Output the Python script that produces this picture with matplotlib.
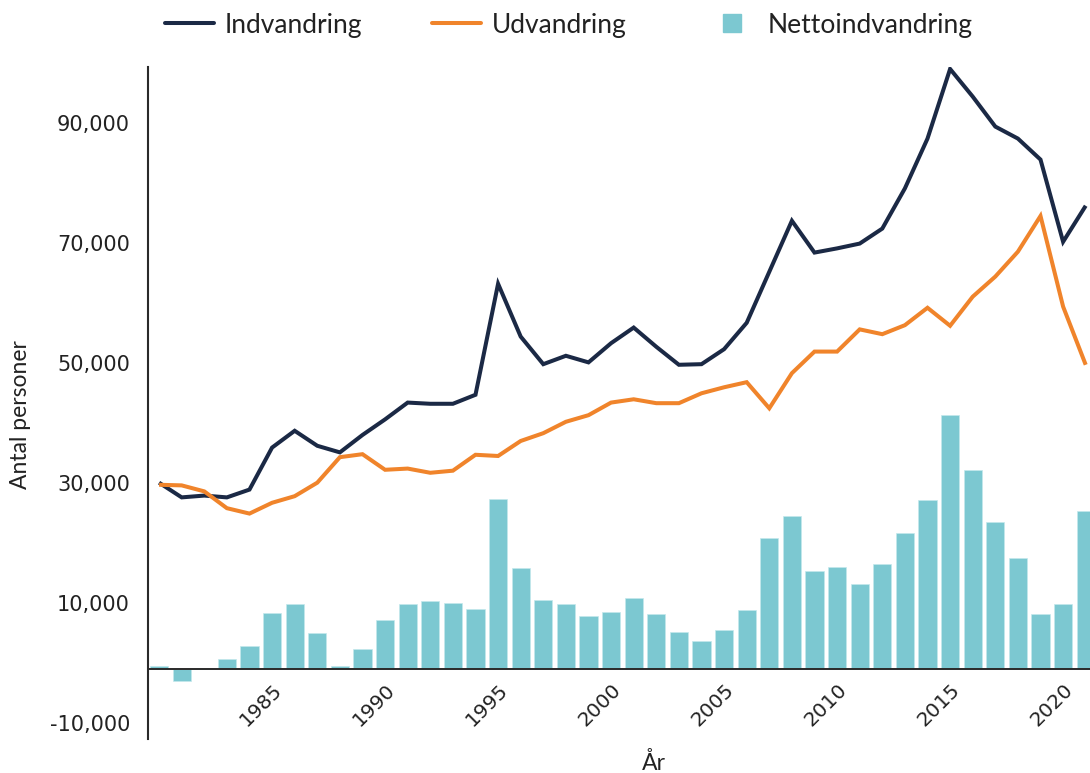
import matplotlib
matplotlib.use("Agg")
import matplotlib.pyplot as plt
from matplotlib.lines import Line2D
from matplotlib.ticker import FuncFormatter

# ---------------- data ----------------
years = list(range(1980, 2022))
indvandring = [30050, 27600, 27900, 27600, 28900, 35900, 38700, 36200, 35100, 38000,
               40600, 43400, 43200, 43200, 44700, 63200, 54400, 49800, 51200, 50100,
               53300, 55900, 52700, 49700, 49800, 52300, 56700, 65200, 73700, 68400,
               69100, 69900, 72400, 79100, 87400, 99000, 94400, 89400, 87400, 83900,
               70200, 76200]
udvandring = [29700, 29600, 28600, 25800, 24900, 26700, 27800, 30050, 34300, 34800,
              32200, 32400, 31700, 32050, 34700, 34500, 37000, 38300, 40200, 41300,
              43400, 43950, 43300, 43300, 44950, 45950, 46800, 42450, 48300, 51900,
              51900, 55600, 54800, 56300, 59200, 56200, 61050, 64400, 68550, 74500,
              59400, 49700]
nettoindvandring = [450, -2000, 0, 1600, 3900, 9400, 10800, 6050, 550, 3300,
                    8200, 10800, 11300, 10950, 10000, 28300, 16900, 11550, 10800, 8800,
                    9450, 11900, 9100, 6200, 4700, 6500, 9900, 21900, 25450, 16300,
                    16950, 14200, 17500, 22700, 28200, 42300, 33100, 24500, 18450, 9100,
                    10800, 26300]
x_ticks = [1985, 1990, 1995, 2000, 2005, 2010, 2015, 2020]
y_ticks = [-10000, 10000, 30000, 50000, 70000, 90000]

series_labels = ["Indvandring", "Udvandring", "Nettoindvandring"]
y_label = "Antal personer"
x_label = "År"

# ---------------- style ----------------
NAVY = "#1b2945"
ORANGE = "#f0842b"
TEAL = "#7cc8d1"
AXIS = "#2a2a2a"

W, H = 1090, 773
fig = plt.figure(figsize=(W / 100, H / 100), dpi=100)

left, right, top, bottom = 148, 1090, 67, 739
ax_bar = fig.add_axes([left / W, 1 - bottom / H, (right - left) / W, (bottom - top) / H])
ax_line = ax_bar.twinx()

# bars
ax_bar.bar(years, nettoindvandring, width=0.81, color=TEAL,
           edgecolor="#c4e8ec", linewidth=0.5, zorder=2)
ax_bar.set_ylim(-11670, 100330)
ax_bar.set_xlim(1979.51, 2021.19)

# lines
ax_line.plot(years, indvandring, color=NAVY, lw=2.9, solid_joinstyle="miter",
             solid_capstyle="butt", zorder=3)
ax_line.plot(years, udvandring, color=ORANGE, lw=2.9, solid_joinstyle="miter",
             solid_capstyle="butt", zorder=3)
ax_line.set_ylim(-12670, 99330)

# spines
for s in ["top", "right", "left", "bottom"]:
    ax_line.spines[s].set_visible(False)
for s in ["top", "right"]:
    ax_bar.spines[s].set_visible(False)
ax_bar.spines["left"].set_color(AXIS)
ax_bar.spines["left"].set_linewidth(1.5)
ax_bar.spines["bottom"].set_position(("data", 0))
ax_bar.spines["bottom"].set_color(AXIS)
ax_bar.spines["bottom"].set_linewidth(1.4)
ax_bar.spines["bottom"].set_zorder(3)

# y ticks (on the line axis, left side)
ax_bar.yaxis.set_visible(False)
ax_line.yaxis.tick_left()
ax_line.set_yticks(y_ticks)
ax_line.yaxis.set_major_formatter(FuncFormatter(lambda v, p: f"{v:,.0f}"))
ax_line.tick_params(axis="y", length=0, pad=13, labelsize=15, labelcolor="#222222")
for lab in ax_line.get_yticklabels():
    lab.set_family("DejaVu Sans")

# x ticks
ax_bar.set_xticks(x_ticks)
ax_bar.tick_params(axis="x", length=0, pad=8, labelsize=14.5, labelcolor="#222222")
for lab in ax_bar.get_xticklabels():
    lab.set_rotation(45)
    lab.set_ha("right")
    lab.set_va("top")
    lab.set_rotation_mode("anchor")
    lab.set_family("DejaVu Sans")

# axis labels
fig.text(21 / W, 1 - 415 / H, y_label, rotation=90, ha="center", va="center",
         fontsize=16.5, family="Lato", color="#222222")
fig.text(654 / W, 1 - 763 / H, x_label, ha="center", va="center",
         fontsize=16.5, family="Lato", color="#222222")

# legend: one entry per legend so each can sit where the reference has it
handles = [
    Line2D([], [], color=NAVY, lw=2.9, solid_capstyle="round"),
    Line2D([], [], color=ORANGE, lw=2.9, solid_capstyle="round"),
    Line2D([], [], color=TEAL, marker="s", linestyle="none", markersize=13),
]
starts = [165, 432, 708]
for h, lab, x0 in zip(handles, series_labels, starts):
    leg = fig.legend([h], [lab], loc="center left", bbox_to_anchor=(x0 / W, 1 - 25 / H),
                     frameon=False, prop={"family": "Lato", "size": 19},
                     handlelength=1.85, handletextpad=0.4, borderpad=0,
                     borderaxespad=0, labelcolor="#222222")

fig.savefig("out.png", dpi=100)
